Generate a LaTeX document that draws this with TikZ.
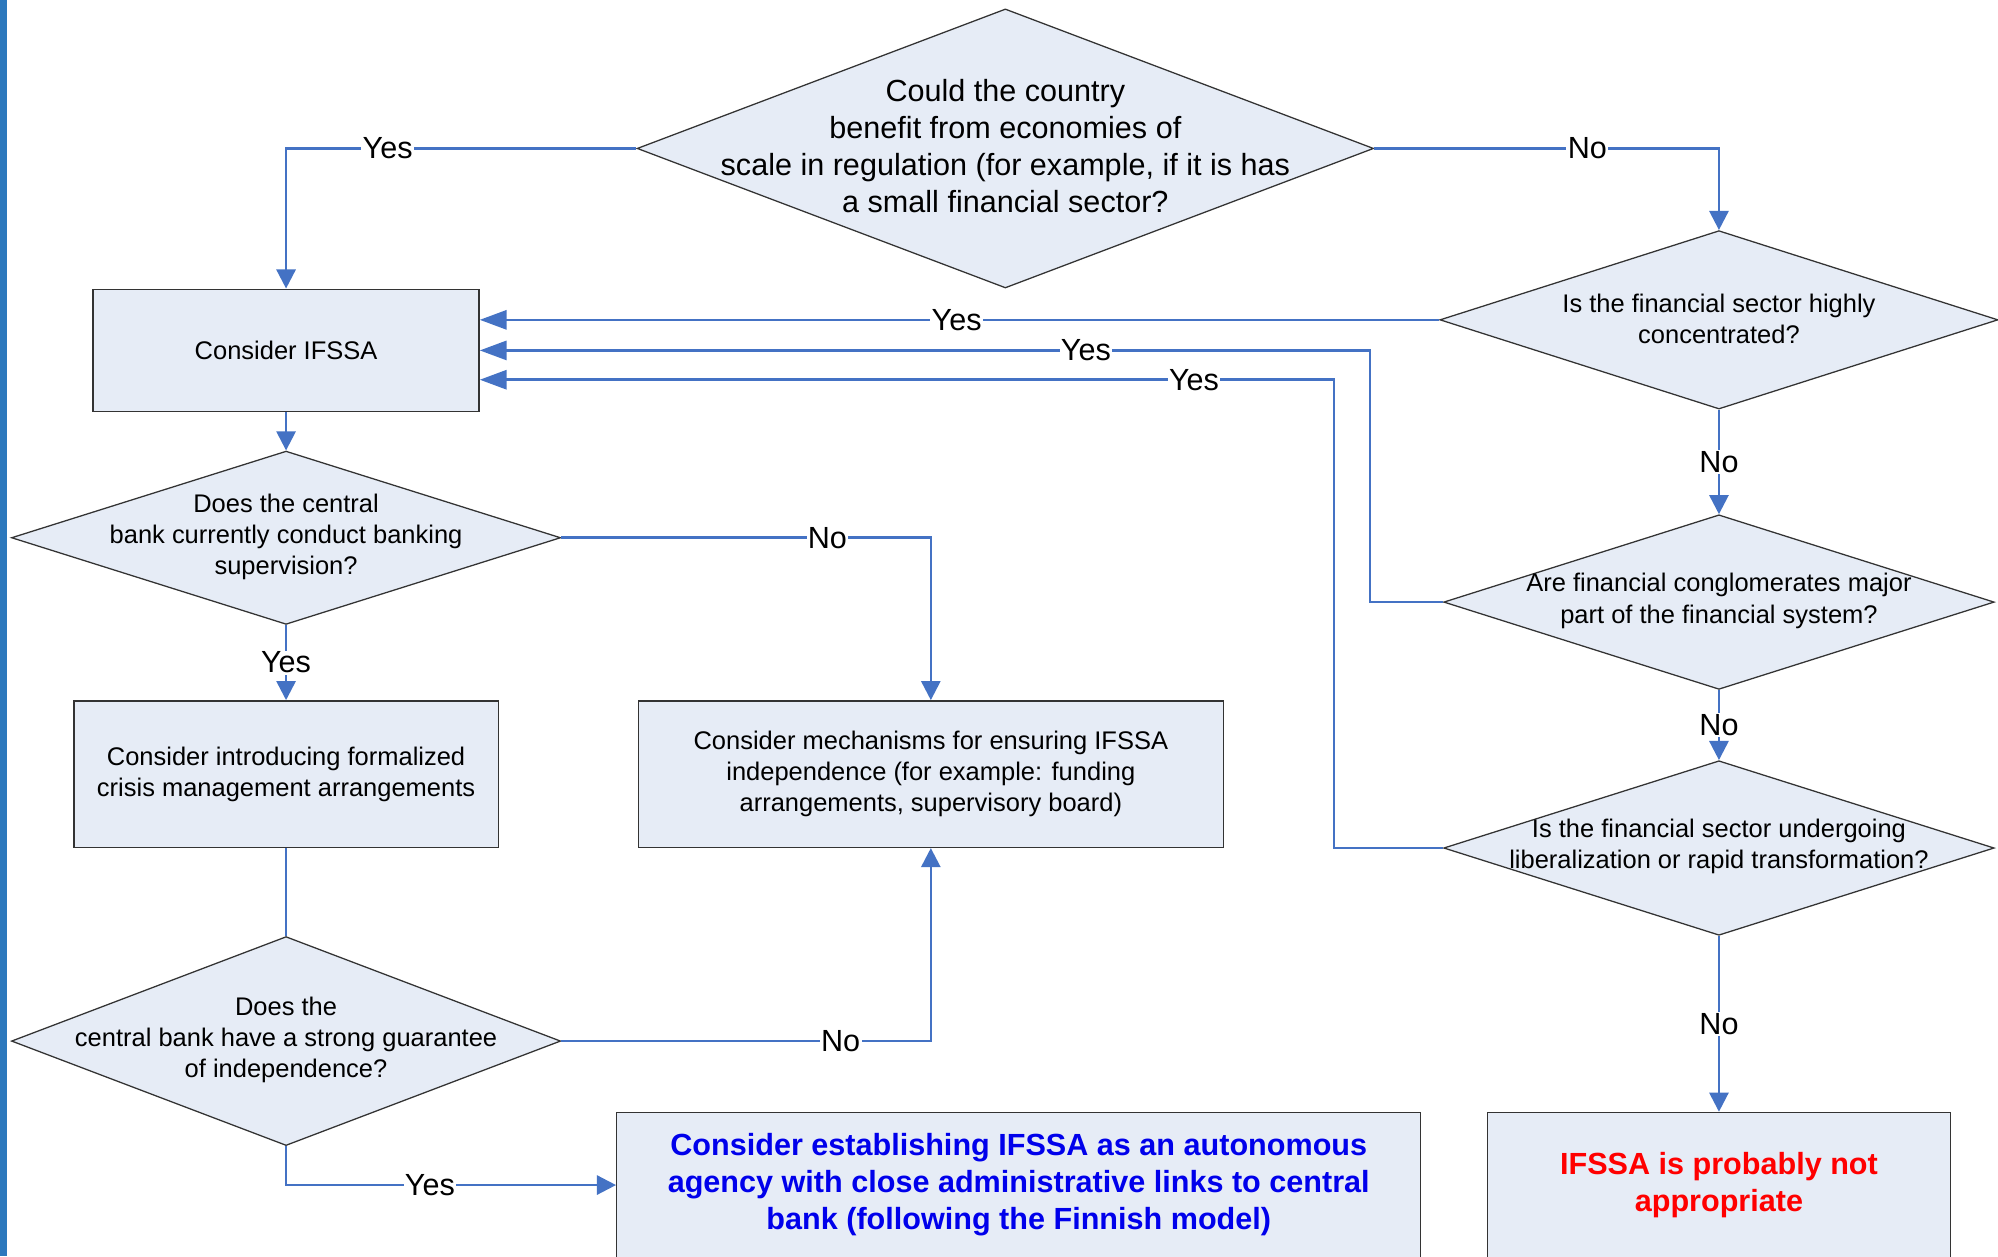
\documentclass[tikz,border=0pt]{standalone}
\usepackage{fontspec}
\setmainfont{Liberation Sans}
\usetikzlibrary{shapes.geometric,arrows.meta}
\definecolor{lineblue}{RGB}{68,114,196}
\definecolor{boxfill}{RGB}{230,236,246}
\definecolor{barblue}{RGB}{44,120,189}
\definecolor{txtblue}{RGB}{0,0,235}
\definecolor{txtred}{RGB}{255,0,0}
\tikzset{
  dia/.style={diamond, draw=black!80, line width=1pt, fill=boxfill, inner sep=0pt},
  box/.style={rectangle, draw=black!80, line width=1.1pt, fill=boxfill, inner sep=0pt},
  smalltext/.style={align=center, font=\fontsize{20}{24.5}\selectfont},
  bigtext/.style={align=center, font=\fontsize{24}{29}\selectfont},
  boldtext/.style={align=center, font=\fontsize{24}{29}\selectfont\bfseries},
  conn/.style={draw=lineblue, line width=2pt},
  arr/.style={conn, -{Triangle[length=15pt,width=15pt]}},
  longarr/.style={conn, -{Triangle[length=21pt,width=15pt]}},
  lbl/.style={fill=white, inner sep=1pt, font=\fontsize{24}{28}\selectfont, text=black}
}
\begin{document}
\begin{tikzpicture}[x=1pt,y=-1pt]
\useasboundingbox (0,0) rectangle (1568,986);
\clip (0,0) rectangle (1568,986);
\fill[white] (0,0) rectangle (1568,986);
\fill[barblue] (0,0) rectangle (5.5,986);

% decision nodes
\node[dia, minimum width=578pt, minimum height=219pt] (d0) at (789,116.5) {};
\node[bigtext] (d0t) at (789,114.5) {Could the country\\benefit from economies of\\scale in regulation (for example, if it is has\\a small financial sector?};

\node[dia, minimum width=438pt, minimum height=140pt] (d1) at (1349,251) {};
\node[smalltext] (d1t) at (1349,250) {Is the financial sector highly\\concentrated?};

\node[dia, minimum width=432pt, minimum height=137pt] (d2) at (1349,472.5) {};
\node[smalltext] (d2t) at (1349,471.5) {Are financial conglomerates major\\part of the financial system?};

\node[dia, minimum width=432pt, minimum height=137pt] (d3) at (1349,665.5) {};
\node[smalltext] (d3t) at (1349,664) {Is the financial sector undergoing\\liberalization or rapid transformation?};

\node[dia, minimum width=431pt, minimum height=136pt] (d4) at (224.5,422) {};
\node[smalltext] (d4t) at (224.5,421.5) {Does the central\\bank currently conduct banking\\supervision?};

\node[dia, minimum width=431pt, minimum height=164pt] (d5) at (224.5,817) {};
\node[smalltext] (d5t) at (224.5,816) {Does the\\central bank have a strong guarantee\\of independence?};

% boxes
\node[box, minimum width=303pt, minimum height=96pt, smalltext] (b1) at (224.5,275) {Consider IFSSA};
\node[box, minimum width=333pt, minimum height=115pt, smalltext] (b2) at (224.5,607.5) {Consider introducing formalized\\crisis management arrangements};
\node[box, minimum width=459pt, minimum height=115pt, smalltext] (b3) at (730.5,607.5) {Consider mechanisms for ensuring IFSSA\\independence (for example: funding\\arrangements, supervisory board)};
\node[box, minimum width=631pt, minimum height=114pt, boldtext, text=txtblue] (bb) at (799.5,930) {Consider establishing IFSSA as an autonomous\\agency with close administrative links to central\\bank (following the Finnish model)};
\node[box, minimum width=363pt, minimum height=114pt, boldtext, text=txtred] (br) at (1349,930) {IFSSA is probably not\\appropriate};

% helper coordinates
\coordinate (k2) at (1075,275);
\coordinate (k3) at (1047,298);

% connectors
\draw[arr] (d0.west) -| node[lbl, pos=0.355] {Yes} (b1.north);
\draw[arr] (d0.east) -| node[lbl, pos=0.309] {No} (d1.north);
\draw[longarr] (d1.west) -- node[lbl, pos=0.503] {Yes} (d1.west -| b1.east);
\draw[longarr] (d2.west) -| (k2) -- node[lbl, pos=0.319] {Yes} (b1.east |- k2);
\draw[longarr] (d3.west) -| (k3) -- node[lbl, pos=0.164] {Yes} (b1.east |- k3);
\draw[arr] (d1.south) -- node[lbl] {No} (d2.north);
\draw[arr] (d2.south) -- node[lbl] {No} (d3.north);
\draw[arr] (d3.south) -- node[lbl] {No} (br.north);
\draw[arr] (b1.south) -- (d4.north);
\draw[arr] (d4.east) -| node[lbl, pos=0.36] {No} (b3.north);
\draw[arr] (d4.south) -- node[lbl] {Yes} (b2.north);
\draw[conn] (b2.south) -- (d5.north);
\draw[arr] (d5.east) -| node[lbl, pos=0.378] {No} (b3.south);
\draw[arr] (d5.south) |- node[lbl, pos=0.718] {Yes} (bb.west);
\end{tikzpicture}
\end{document}
